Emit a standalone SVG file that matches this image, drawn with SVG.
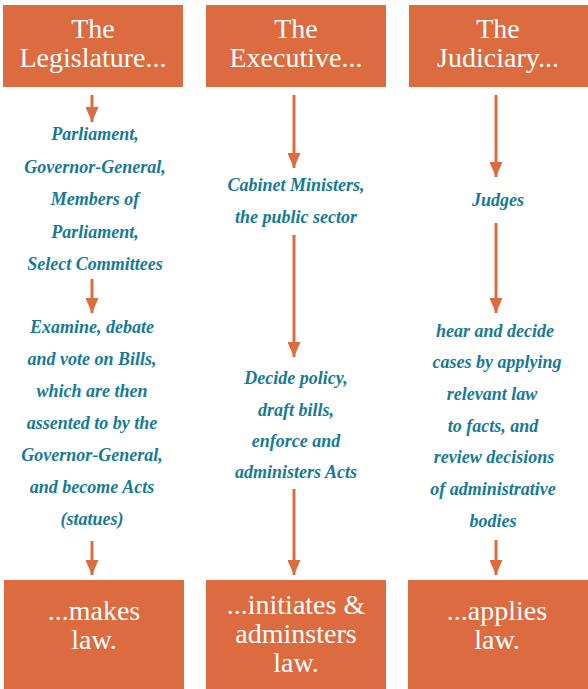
<svg xmlns="http://www.w3.org/2000/svg" width="588" height="689" viewBox="0 0 588 689">
<defs>
<style>
.box{fill:#DC6B40;}
.hd{font-size:28px;fill:#ffffff;text-anchor:middle;}
.tx{font-size:18px;font-weight:bold;font-style:italic;fill:#167A93;text-anchor:middle;}
.ar{stroke:#DC6B40;stroke-width:3;fill:none;}
</style>
<marker id="ah" markerUnits="userSpaceOnUse" viewBox="0 0 15 13" refX="15" refY="6.5" markerWidth="15" markerHeight="13" orient="auto">
<path d="M0,0 L15,6.5 L0,13 Z" fill="#DC6B40"/>
</marker>
</defs>
<rect width="588" height="689" fill="#ffffff"/>
<g font-family="Liberation Serif, Tinos, DejaVu Serif, serif">
<g id="legislature">
<rect class="box" x="3" y="5" width="180" height="82"/>
<text class="hd" x="93" y="38">The</text>
<text class="hd" x="93" y="67">Legislature...</text>
</g>
<g id="executive">
<rect class="box" x="206" y="5" width="180" height="82"/>
<text class="hd" x="296" y="38">The</text>
<text class="hd" x="296" y="67">Executive...</text>
</g>
<g id="judiciary">
<rect class="box" x="409" y="5" width="179" height="82"/>
<text class="hd" x="498" y="38">The</text>
<text class="hd" x="498" y="67">Judiciary...</text>
</g>

<g id="leg-members">
<text class="tx" x="95" y="140">Parliament,</text>
<text class="tx" x="95" y="172.5">Governor-General,</text>
<text class="tx" x="95" y="205">Members of</text>
<text class="tx" x="95" y="237.5">Parliament,</text>
<text class="tx" x="95" y="270">Select Committees</text>
</g>
<g id="leg-role">
<text class="tx" x="92" y="333">Examine, debate</text>
<text class="tx" x="92" y="365">and vote on Bills,</text>
<text class="tx" x="92" y="397">which are then</text>
<text class="tx" x="92" y="429">assented to by the</text>
<text class="tx" x="92" y="461">Governor-General,</text>
<text class="tx" x="92" y="493">and become Acts</text>
<text class="tx" x="92" y="525">(statues)</text>
</g>
<g id="exe-members">
<text class="tx" x="296" y="191">Cabinet Ministers,</text>
<text class="tx" x="296" y="223">the public sector</text>
</g>
<g id="exe-role">
<text class="tx" x="296" y="384">Decide policy,</text>
<text class="tx" x="296" y="416">draft bills,</text>
<text class="tx" x="296" y="447">enforce and</text>
<text class="tx" x="296" y="478">administers Acts</text>
</g>
<g id="jud-members">
<text class="tx" x="498" y="206">Judges</text>
</g>
<g id="jud-role">
<text class="tx" x="495" y="337">hear and decide</text>
<text class="tx" x="497" y="368">cases by applying</text>
<text class="tx" x="492" y="400">relevant law</text>
<text class="tx" x="493" y="432">to facts, and</text>
<text class="tx" x="494" y="463">review decisions</text>
<text class="tx" x="493" y="495">of administrative</text>
<text class="tx" x="493" y="527">bodies</text>
</g>

<g id="makes">
<rect class="box" x="4" y="580" width="180" height="109"/>
<text class="hd" x="94" y="620">...makes</text>
<text class="hd" x="94" y="649">law.</text>
</g>
<g id="initiates">
<rect class="box" x="206" y="580" width="180" height="109"/>
<text class="hd" x="296" y="614">...initiates &amp;</text>
<text class="hd" x="296" y="643">adminsters</text>
<text class="hd" x="296" y="672">law.</text>
</g>
<g id="applies">
<rect class="box" x="408" y="580" width="180" height="109"/>
<text class="hd" x="497" y="620">...applies</text>
<text class="hd" x="497" y="649">law.</text>
</g>
</g>
<g id="connectors">
<line class="ar" x1="92" y1="95" x2="92" y2="122" marker-end="url(#ah)"/>
<line class="ar" x1="92" y1="279" x2="92" y2="313" marker-end="url(#ah)"/>
<line class="ar" x1="92" y1="541" x2="92" y2="575" marker-end="url(#ah)"/>
<line class="ar" x1="294" y1="95" x2="294" y2="168" marker-end="url(#ah)"/>
<line class="ar" x1="294" y1="235" x2="294" y2="357" marker-end="url(#ah)"/>
<line class="ar" x1="294" y1="489" x2="294" y2="575" marker-end="url(#ah)"/>
<line class="ar" x1="496" y1="95" x2="496" y2="177" marker-end="url(#ah)"/>
<line class="ar" x1="496" y1="223" x2="496" y2="313" marker-end="url(#ah)"/>
<line class="ar" x1="496" y1="540" x2="496" y2="575" marker-end="url(#ah)"/>
</g>
</svg>
